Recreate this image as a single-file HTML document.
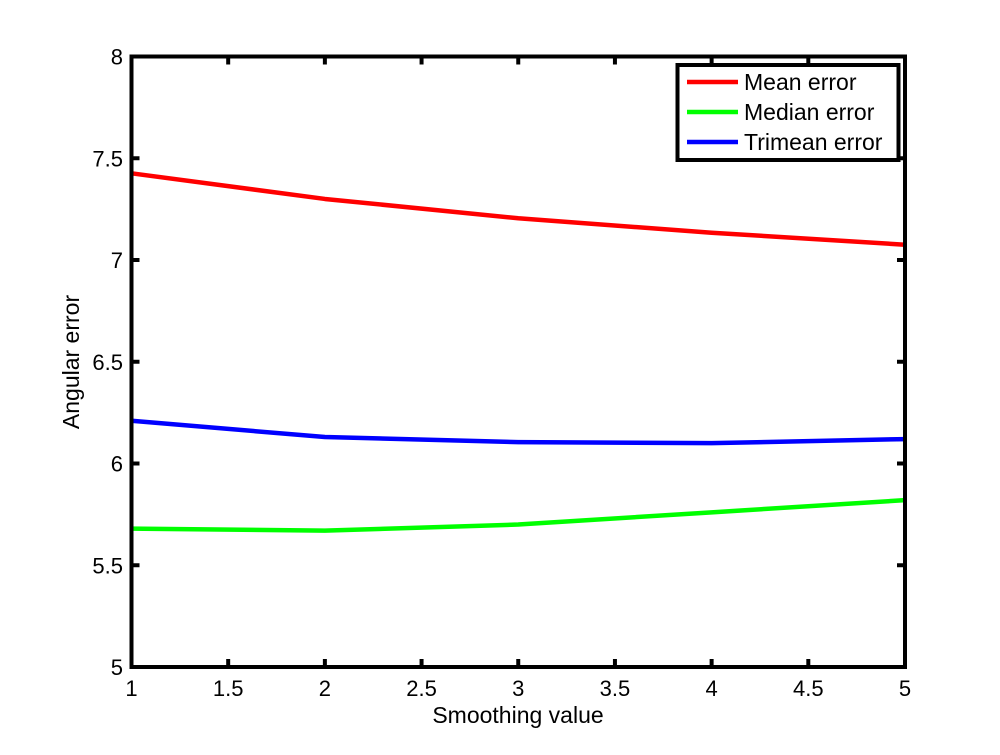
<!DOCTYPE html>
<html><head><meta charset="utf-8"><style>
body{margin:0;background:#fff;}
svg text{font-family:"Liberation Sans",Arial,sans-serif;fill:#000;}
</style></head><body>
<svg id="chart" width="1000" height="750" xmlns="http://www.w3.org/2000/svg">
<rect x="0" y="0" width="1000" height="750" fill="#fff"/>
<g id="plot"></g>
</svg>
<script>
const xValues=[1,2,3,4,5];
const meanError=[7.426,7.30,7.205,7.134,7.075];
const medianError=[5.68,5.67,5.70,5.76,5.82];
const trimeanError=[6.21,6.13,6.105,6.10,6.12];
const xTicks=[1,1.5,2,2.5,3,3.5,4,4.5,5];
const yTicks=[5,5.5,6,6.5,7,7.5,8];
const seriesNames=["Mean error","Median error","Trimean error"];

const L=131.5,R=905,T=56.5,B=667;
const xs=v=>L+(v-1)/(5-1)*(R-L);
const ys=v=>B-(v-5)/(8-5)*(B-T);
const NS="http://www.w3.org/2000/svg";
const g=document.getElementById('plot');
function mk(tag,attrs,parent){const e=document.createElementNS(NS,tag);for(const k in attrs)e.setAttribute(k,attrs[k]);(parent||g).appendChild(e);return e;}

const series=[[meanError,"#ff0000","mean-error-line"],[medianError,"#00ff00","median-error-line"],[trimeanError,"#0000ff","trimean-error-line"]];
series.forEach(s=>{
  const p=mk('polyline',{points:xValues.map((x,i)=>xs(x)+','+ys(s[0][i])).join(' '),fill:'none',stroke:s[1],'stroke-width':4.5,'stroke-linejoin':'round'});
  
  
});

const box=mk('rect',{x:L,y:T,width:R-L,height:B-T,fill:'none',stroke:'#000','stroke-width':4});



xTicks.forEach(v=>{
  const x=xs(v);
  const t1=mk('line',{x1:x,y1:B,x2:x,y2:B-8,stroke:'#000','stroke-width':4});
  
  
  const t2=mk('line',{x1:x,y1:T,x2:x,y2:T+8,stroke:'#000','stroke-width':4});
  
  
  const tx=mk('text',{x:x,y:696,'font-size':22,'text-anchor':'middle'});
  tx.textContent=String(v);
  
  
});
yTicks.forEach(v=>{
  const y=ys(v);
  const t1=mk('line',{x1:L,y1:y,x2:L+8,y2:y,stroke:'#000','stroke-width':4});
  
  
  const t2=mk('line',{x1:R,y1:y,x2:R-8,y2:y,stroke:'#000','stroke-width':4});
  
  
  const tx=mk('text',{x:123,y:y+8,'font-size':22,'text-anchor':'end'});
  tx.textContent=String(v);
  
  
});

const xl=mk('text',{x:518,y:723,'font-size':23,'text-anchor':'middle'});
xl.textContent='Smoothing value';


const yl=mk('text',{x:0,y:0,'font-size':23,'text-anchor':'middle',transform:'translate(79,362) rotate(-90)'});
yl.textContent='Angular error';



const lg=mk('g',{});


const lb=mk('rect',{x:677.5,y:65,width:221,height:95,fill:'#fff',stroke:'#000','stroke-width':4},lg);


seriesNames.forEach((n,i)=>{
  const y=82+i*30;
  const ln=mk('line',{x1:687,y1:y,x2:738,y2:y,stroke:series[i][1],'stroke-width':4.5},lg);
  
  
  const t=mk('text',{x:744,y:y+8,'font-size':23},lg);
  t.textContent=n;
  
  
});
</script>
</body></html>
